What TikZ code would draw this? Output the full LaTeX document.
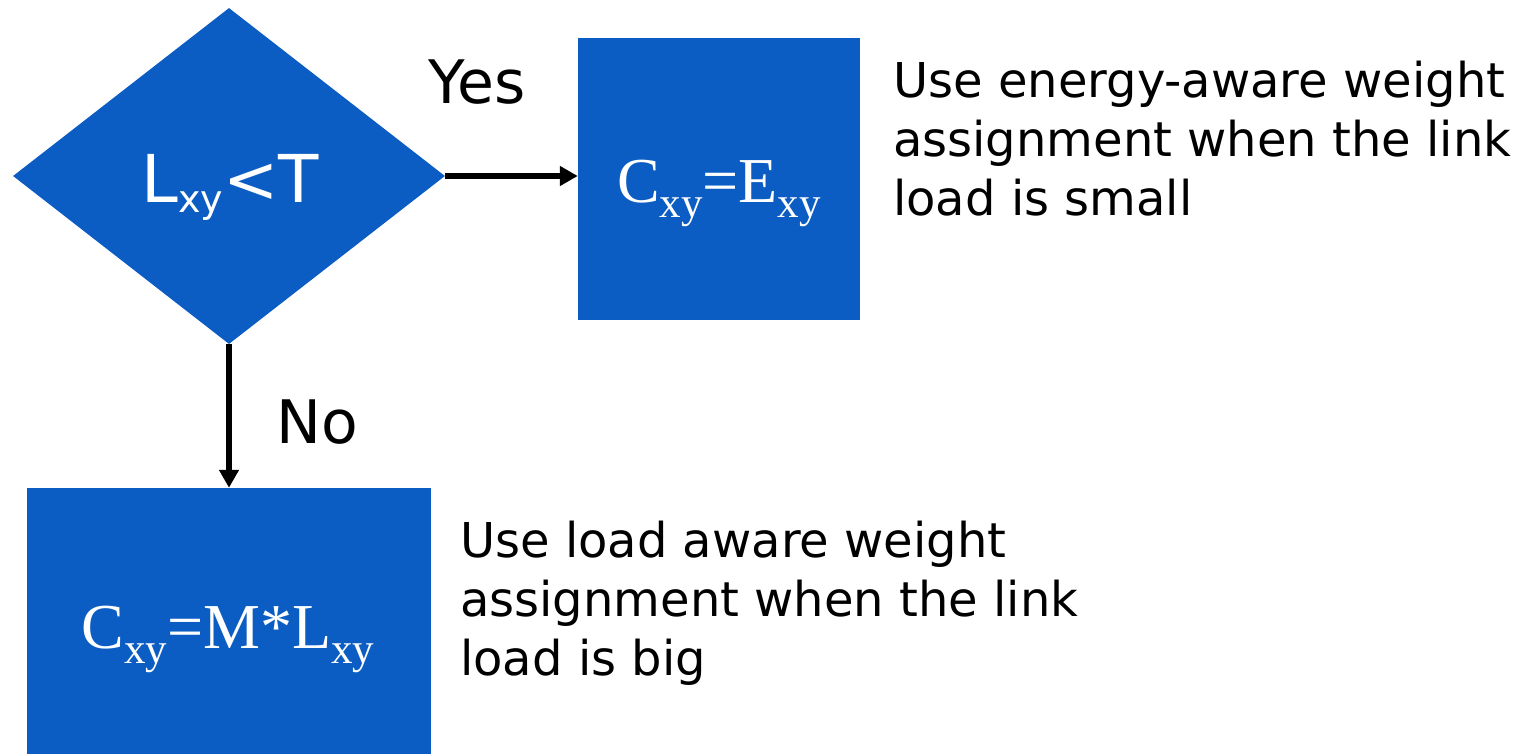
\documentclass[tikz,border=0pt]{standalone}
\usepackage{fontspec}
\setmainfont{Liberation Serif}
\newfontfamily\labelfont{DejaVu Sans}
\usetikzlibrary{shapes.geometric,arrows.meta}
\definecolor{flowblue}{RGB}{11,93,196}
\tikzset{
  blockfill/.style={fill=flowblue,draw=none,inner sep=0pt},
  formula/.style={text=white,inner sep=0pt,font=\fontsize{64}{64}\selectfont},
  answer/.style={text=black,inner sep=0pt,font=\labelfont\fontsize{60}{60}\selectfont},
  remark/.style={text=black,inner sep=0pt,align=left,font=\labelfont\fontsize{48}{59}\selectfont},
  flowarrow/.style={draw=black,line width=5.5pt,-{Triangle[length=18pt,width=19pt]}},
}
% subscripts "xy" in the sans condition and in the serif formulas
\newcommand{\sanssub}[1]{#1\raisebox{-10pt}{\fontsize{38}{38}\selectfont xy}}
\newcommand{\serifsub}[1]{#1\raisebox{-15pt}{\fontsize{43}{43}\selectfont xy}}
\begin{document}
\begin{tikzpicture}[x=1pt,y=-1pt]
  \useasboundingbox (0,0) rectangle (1522,754);

  % decision and the two outcomes
  \node[blockfill,diamond,minimum width=432pt,minimum height=336pt] (dec) at (229,176) {};
  \node[blockfill,rectangle,minimum width=282pt,minimum height=282pt] (yesbox) at (719,179) {};
  \node[blockfill,rectangle,minimum width=404pt,minimum height=266pt] (nobox) at (229,621) {};

  % formulas inside the shapes
  \node[text=white,inner sep=0pt,anchor=base,font=\labelfont\fontsize{66}{66}\selectfont] (cond) at (230,202)
    {\sanssub{L}<T};
  \node[formula,anchor=base] (eqyes) at (719,203) {\serifsub{C}=\serifsub{E}};
  \node[formula,anchor=base] (eqno) at (228,648) {\serifsub{C}=M*\serifsub{L}};

  % connectors
  \draw[flowarrow] (dec.east) -- (dec.east -| yesbox.west);
  \draw[flowarrow] (dec.south) -- (dec.south |- nobox.north);

  % branch labels
  \node[answer,anchor=base] (yeslbl) at (477,104) {Yes};
  \node[answer,anchor=base] (nolbl) at (317,443) {No};

  % explanations (anchored on the baseline of their last line)
  \node[remark,anchor=base west] (yesnote) at (893,215)
    {Use energy-aware weight\\assignment when the link\\load is small};
  \node[remark,anchor=base west] (nonote) at (460,675)
    {Use load aware weight\\assignment when the link\\load is big};
\end{tikzpicture}
\end{document}
